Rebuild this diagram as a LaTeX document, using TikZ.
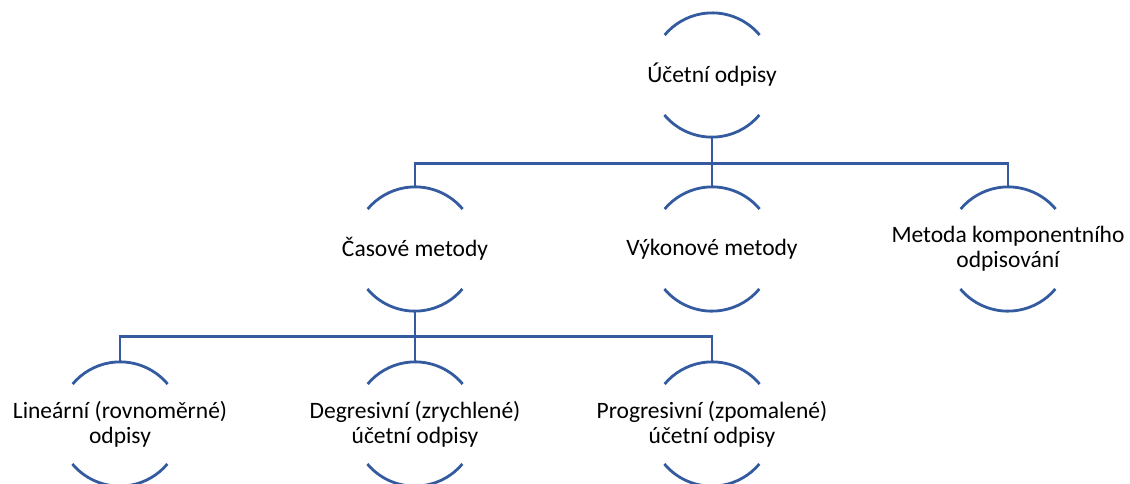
\documentclass[tikz,border=0pt]{standalone}
\usepackage{fontspec}
\setmainfont{Carlito}
\usepackage{tikz}
\definecolor{linkblue}{RGB}{52,90,160}

\begin{document}
\begin{tikzpicture}[x=1pt, y=1pt,
    ring/.style={circle, minimum size=124pt, inner sep=0pt},
    ringtext/.style={font=\fontsize{23.5}{25}\selectfont, align=center, text=black},
    link/.style={draw=linkblue, line width=2.8pt}]
  \clip (0,0) rectangle (1130,-483);
  % top level
  \node[ring, label={[ringtext]center:Účetní odpisy}] (ucetni) at (712,-75) {};
  % second level
  \node[ring, label={[ringtext]center:Časové metody}] (casove) at (415,-249) {};
  \node[ring, label={[ringtext]center:Výkonové metody}] (vykonove) at (712,-249) {};
  \node[ring, label={[ringtext]center:Metoda komponentního\\odpisování}] (komponent) at (1008,-249) {};
  % third level
  \node[ring, label={[ringtext]center:Lineární (rovnoměrné)\\odpisy}] (linearni) at (120,-424) {};
  \node[ring, label={[ringtext]center:Degresivní (zrychlené)\\účetní odpisy}] (degresivni) at (415,-424) {};
  \node[ring, label={[ringtext]center:Progresivní (zpomalené)\\účetní odpisy}] (progresivni) at (712,-424) {};

  \foreach \n in {ucetni,casove,vykonove,komponent,linearni,degresivni,progresivni} {
    \draw[link] (\n.40) arc[start angle=40, end angle=140, radius=62pt];
    \draw[link] (\n.220) arc[start angle=220, end angle=320, radius=62pt];
  }

  % connectors
  \draw[link] (ucetni.south) -- ++(0,-26) -| (casove.north);
  \draw[link] (ucetni.south) -- (vykonove.north);
  \draw[link] (ucetni.south) -- ++(0,-26) -| (komponent.north);
  \draw[link] (casove.south) -- ++(0,-25) -| (linearni.north);
  \draw[link] (casove.south) -- (degresivni.north);
  \draw[link] (casove.south) -- ++(0,-25) -| (progresivni.north);
\end{tikzpicture}
\end{document}
